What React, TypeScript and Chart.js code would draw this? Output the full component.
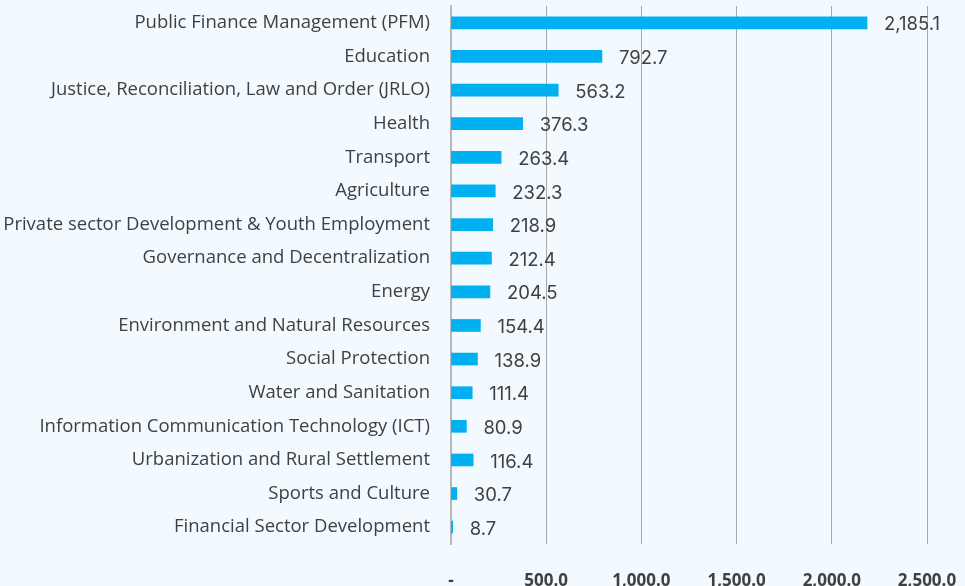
import React, { useEffect, useRef } from "react";
import { Chart, registerables } from "chart.js";

Chart.register(...registerables);

const categories = [
  "Public Finance Management (PFM)",
  "Education",
  "Justice, Reconciliation, Law and Order (JRLO)",
  "Health",
  "Transport",
  "Agriculture",
  "Private sector Development & Youth Employment",
  "Governance and Decentralization",
  "Energy",
  "Environment and Natural Resources",
  "Social Protection",
  "Water and Sanitation",
  "Information Communication Technology (ICT)",
  "Urbanization and Rural Settlement",
  "Sports and Culture",
  "Financial Sector Development",
];

const values = [
  2185.1, 792.7, 563.2, 376.3, 263.4, 232.3, 218.9, 212.4, 204.5, 154.4, 138.9,
  111.4, 80.9, 116.4, 30.7, 8.7,
];

const xTicks = [0, 500, 1000, 1500, 2000, 2500];

const fmt = (v: number) =>
  v === 0
    ? "-"
    : v.toLocaleString("en-US", {
        minimumFractionDigits: 1,
        maximumFractionDigits: 1,
      });

const BG = "#f3faff";
const TEXT = "#404040";
const LABEL_FONT = "'Open Sans', sans-serif";
const VALUE_FONT = "Inter, sans-serif";

const valueLabels = {
  id: "valueLabels",
  afterDatasetsDraw(chart: any) {
    const ctx = chart.ctx;
    const meta = chart.getDatasetMeta(0);
    ctx.save();
    ctx.fillStyle = TEXT;
    ctx.font = `18.5px ${VALUE_FONT}`;
    ctx.textAlign = "left";
    ctx.textBaseline = "middle";
    meta.data.forEach((bar: any, i: number) => {
      ctx.fillText(fmt(values[i]), bar.x + 17, bar.y + 2);
    });
    ctx.restore();
  },
};

export default function App() {
  const ref = useRef<HTMLCanvasElement | null>(null);

  useEffect(() => {
    document.body.style.margin = "0";
    document.body.style.background = BG;
    const chart = new Chart(ref.current as HTMLCanvasElement, {
      type: "bar",
      data: {
        labels: categories,
        datasets: [
          {
            data: values,
            backgroundColor: "#00b0f0",
            barThickness: 12,
          },
        ],
      },
      options: {
        indexAxis: "y",
        animation: false,
        responsive: false,
        maintainAspectRatio: false,
        layout: {
          autoPadding: false,
          padding: { top: 6, right: 38, left: 0, bottom: 0 },
        },
        plugins: {
          legend: { display: false },
          tooltip: { enabled: false },
        },
        scales: {
          x: {
            min: 0,
            max: 2500,
            afterBuildTicks: (scale: any) => {
              scale.ticks = xTicks.map((v) => ({ value: v }));
            },
            afterFit: (scale: any) => {
              scale.height = 42;
              scale.paddingLeft = 0;
              scale.paddingRight = 0;
            },
            grid: { color: "#a8a8a8", drawTicks: false, lineWidth: 1 },
            border: { display: false },
            ticks: {
              padding: 27,
              color: TEXT,
              font: { family: LABEL_FONT, size: 17, weight: "bold" },
              callback: (v: any) => fmt(Number(v)),
              maxRotation: 0,
              autoSkip: false,
            },
          },
          y: {
            afterFit: (scale: any) => {
              scale.width = 451;
              scale.paddingTop = 0;
              scale.paddingBottom = 0;
            },
            grid: { display: false, drawTicks: false },
            border: { display: true, color: "#b8b8b8", width: 2 },
            ticks: {
              padding: 21,
              color: TEXT,
              font: { family: LABEL_FONT, size: 18.5 },
              autoSkip: false,
            },
          },
        },
      },
      plugins: [valueLabels],
    });
    return () => chart.destroy();
  }, []);

  return (
    <div style={{ width: 965, height: 586, background: BG }}>
      <canvas ref={ref} width={965} height={586} />
    </div>
  );
}
